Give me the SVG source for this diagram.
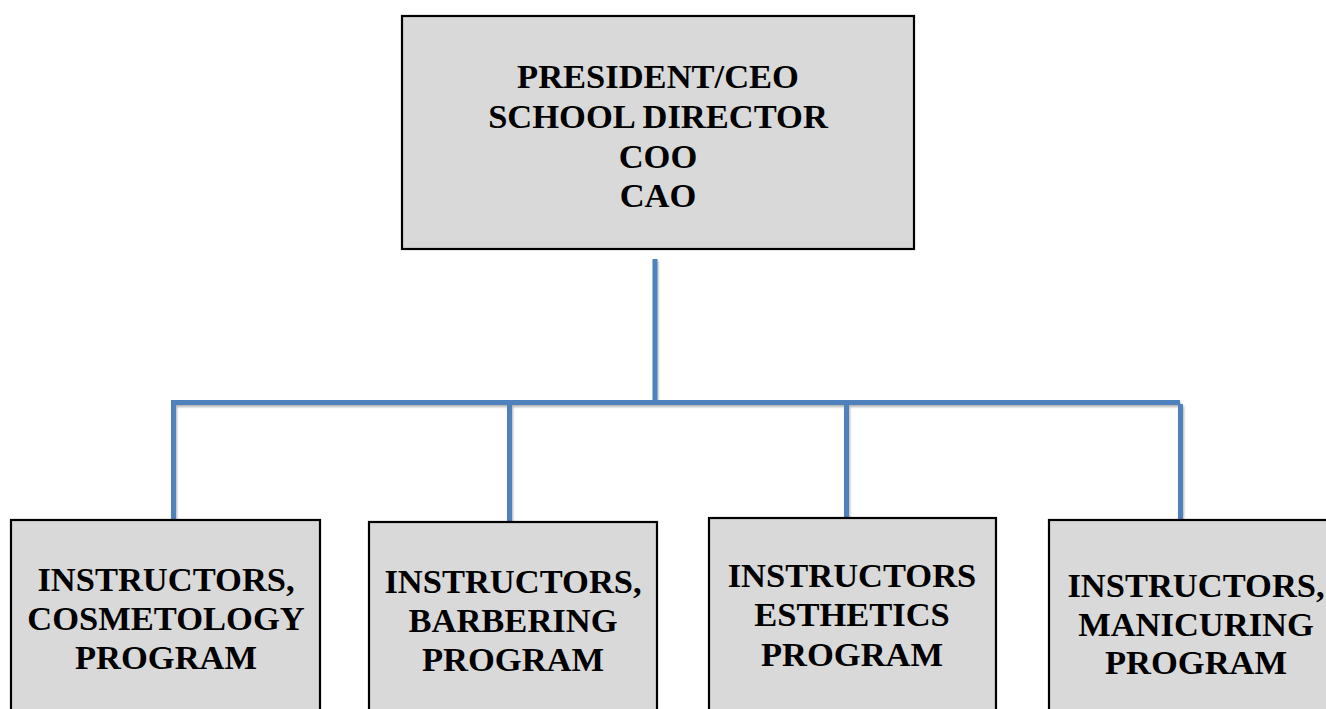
<svg xmlns="http://www.w3.org/2000/svg" width="1326" height="709" viewBox="0 0 1326 709">
  <defs>
    <filter id="sh" x="-10%" y="-10%" width="120%" height="120%">
      <feDropShadow dx="1" dy="2" stdDeviation="1.2" flood-color="#000" flood-opacity="0.3"/>
    </filter>
  </defs>
  <style>
    .box { fill: #D9D9D9; stroke: #000; stroke-width: 2.2; }
    text { font-family: 'Liberation Serif', 'Times New Roman', Times, serif; font-weight: bold; fill: #000; text-anchor: middle; font-size: 34.5px; }
    .c { fill: none; stroke: #4F81BD; stroke-width: 5; stroke-linecap: butt; stroke-linejoin: miter; }
  </style>
  <rect width="1326" height="709" fill="#fff"/>

  <g id="connectors" filter="url(#sh)">
    <line class="c" x1="655" y1="259" x2="655" y2="402.5"/>
    <path class="c" d="M173.5,520 V402.5 H1180"/>
    <line class="c" x1="1180.5" y1="404" x2="1180.5" y2="523"/>
    <line class="c" x1="509.5" y1="402.5" x2="509.5" y2="521"/>
    <line class="c" x1="846.5" y1="402.5" x2="846.5" y2="518"/>
  </g>

  <g id="president" font-family="Liberation Serif, serif">
    <rect class="box" x="402" y="16" width="512" height="233"/>
    <text x="658" y="88">PRESIDENT/CEO</text>
    <text x="658" y="128">SCHOOL DIRECTOR</text>
    <text x="658" y="168">COO</text>
    <text x="658" y="207">CAO</text>
  </g>

  <g id="cosmetology" font-family="Liberation Serif, serif">
    <rect class="box" x="11" y="520" width="309" height="200"/>
    <text x="166" y="591">INSTRUCTORS,</text>
    <text x="166" y="630">COSMETOLOGY</text>
    <text x="166" y="669">PROGRAM</text>
  </g>

  <g id="barbering" font-family="Liberation Serif, serif">
    <rect class="box" x="369" y="522" width="288" height="200"/>
    <text x="513" y="593">INSTRUCTORS,</text>
    <text x="513" y="632">BARBERING</text>
    <text x="513" y="671">PROGRAM</text>
  </g>

  <g id="esthetics" font-family="Liberation Serif, serif">
    <rect class="box" x="709" y="518" width="287" height="200"/>
    <text x="852" y="587">INSTRUCTORS</text>
    <text x="852" y="626">ESTHETICS</text>
    <text x="852" y="666">PROGRAM</text>
  </g>

  <g id="manicuring" font-family="Liberation Serif, serif">
    <rect class="box" x="1049" y="520" width="300" height="200"/>
    <text x="1196" y="597">INSTRUCTORS,</text>
    <text x="1196" y="636">MANICURING</text>
    <text x="1196" y="674">PROGRAM</text>
  </g>
</svg>
